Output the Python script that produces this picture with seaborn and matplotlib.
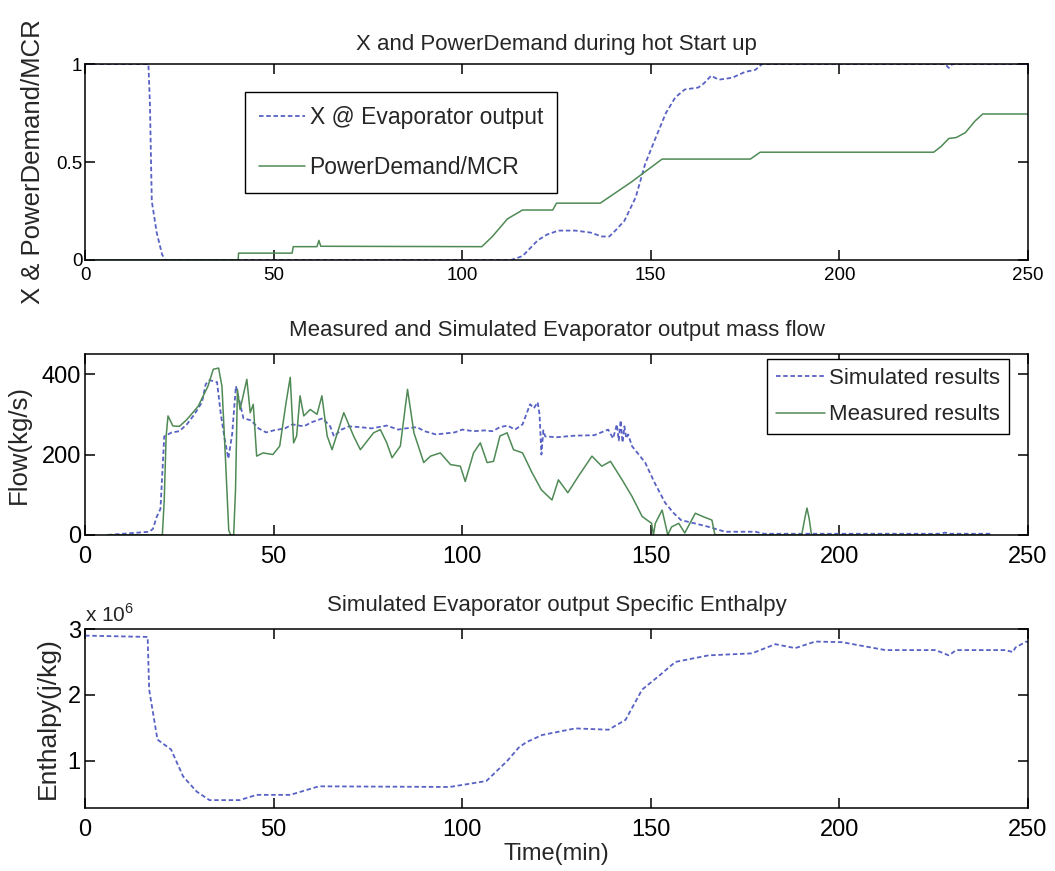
import matplotlib
matplotlib.use('Agg')
import matplotlib.pyplot as plt
import seaborn as sns
import pandas as pd

# --- data ---
# top: quality X at evaporator output and PowerDemand/MCR
x_time = [0, 12, 16.8, 17.2, 17.7, 19, 20.4, 21.2, 113, 116, 118, 120, 122.5, 125.5, 130,
          134, 137, 139, 140.6, 143, 146, 148.5, 151, 154, 156.5, 159, 162.6, 164, 166,
          168, 171.6, 175, 177.7, 179.5, 228, 229, 230, 250]
x_evap = [1, 1, 1, 0.8, 0.3, 0.14, 0.03, 0, 0, 0.02, 0.06, 0.10, 0.13, 0.15, 0.15,
          0.14, 0.12, 0.12, 0.15, 0.20, 0.32, 0.49, 0.61, 0.75, 0.83, 0.87, 0.88, 0.90, 0.94,
          0.92, 0.93, 0.96, 0.97, 1.0, 1.0, 0.98, 1.0, 1.0]

pd_time = [0, 40.6, 40.7, 54.9, 55.2, 61.5, 62, 62.5, 105.2, 108, 112, 116, 124, 125,
           136.6, 145, 153, 176.4, 179, 225, 227, 229, 231, 233.4, 236, 238, 250]
pd_mcr = [0, 0, 0.035, 0.035, 0.068, 0.068, 0.10, 0.07, 0.068, 0.12, 0.21, 0.255, 0.255, 0.29,
          0.29, 0.40, 0.515, 0.515, 0.55, 0.55, 0.58, 0.62, 0.625, 0.65, 0.71, 0.745, 0.745]

# middle: evaporator output mass flow (kg/s)
sim_time = [6, 17, 18, 19, 20, 21, 23, 25, 27, 29, 31, 32, 33, 35, 36, 37, 38, 39, 40, 42,
            44, 46, 48, 50, 53, 55, 58, 60, 63, 65, 66, 68, 70, 73, 76, 80, 83, 85, 88, 90,
            93, 95, 98, 100, 103, 106, 108, 110, 112, 114, 116, 117, 118, 119, 120, 120.5,
            121, 121.5, 122, 125, 130, 135, 138.7, 140, 141, 141.5, 142, 142.5, 143, 143.5,
            144, 145, 148.5, 151, 153.8, 156, 158, 162, 165, 169.7, 177.7, 180, 227, 228,
            229, 240]
sim_flow = [0, 8, 15, 45, 65, 245, 255, 258, 275, 300, 330, 375, 385, 380, 300, 240, 190, 250,
            370, 290, 285, 265, 255, 260, 265, 275, 270, 280, 290, 270, 245, 262, 270, 268,
            265, 272, 262, 265, 268, 258, 250, 252, 255, 262, 258, 260, 258, 268, 272, 262,
            275, 300, 325, 315, 330, 300, 200, 260, 245, 243, 247, 248, 262, 240, 275, 235,
            285, 230, 270, 240, 250, 221, 180, 130, 80, 55, 37, 28, 21, 8, 8, 3, 3, 6, 3, 3]

meas_time = [6, 20.5, 21, 21.5, 22, 23.3, 25, 27, 30, 32.6, 34, 35.4, 36.3, 37.2, 38.1, 38.6,
             39.4, 39.9, 40.4, 41.1, 42.9, 43.8, 44.6, 45.5, 47.2, 49.8, 51.6, 53.3, 54.4,
             55.3, 56.1, 57, 58, 59.7, 61.5, 62.8, 64.2, 65.5, 68.6, 71.2, 73, 76.5, 78.3,
             80, 81.4, 83.6, 85.5, 87.2, 89.8, 91.6, 94.2, 96.9, 99.5, 100.8, 103, 104.8,
             106.6, 108.3, 110, 111.9, 113.6, 116, 118.5, 121, 123.8, 125.5, 128, 130.8,
             134.4, 137, 139.3, 142.4, 145, 147.7, 150.2, 150.7, 151.2, 153, 154.5, 155.5,
             157.4, 159, 161.8, 164, 166.2, 167, 190, 190.8, 191.4, 192, 192.6, 240]
meas_flow = [0, 0, 87, 245, 296, 271, 270, 287, 320, 370, 412, 415, 370, 196, 12, 0,
             0, 112, 362, 312, 387, 304, 325, 196, 204, 200, 221, 329, 392,
             229, 246, 346, 296, 312, 300, 346, 246, 212, 304, 246, 212, 254, 262,
             229, 192, 221, 362, 254, 180, 196, 204, 175, 171, 133, 204, 229,
             180, 183, 246, 254, 212, 204, 155, 112, 87, 137, 105, 146,
             196, 171, 183, 137, 96, 46, 29, 0, 29, 62, 0, 20,
             29, 5, 54, 45, 37, 0, 0, 40, 67, 40, 0, 0]

# bottom: simulated specific enthalpy (J/kg)
h_time = [0, 16.6, 17, 19.2, 22.8, 26, 29.6, 33, 41, 45.5, 54.4, 62, 96.7, 106.4, 112,
          115, 117, 121.2, 130, 138.8, 143.3, 147.7, 152, 156.5, 165.3, 176.8, 183, 188.3,
          193.6, 200.7, 212.2, 225.5, 229, 231, 244, 246, 246.7, 249.6, 250]
enthalpy = [2.90e6, 2.88e6, 2.08e6, 1.32e6, 1.17e6, 0.76e6, 0.53e6, 0.40e6, 0.40e6, 0.48e6,
            0.48e6, 0.61e6, 0.60e6, 0.69e6, 1.00e6, 1.20e6, 1.28e6, 1.39e6, 1.49e6, 1.47e6,
            1.62e6, 2.08e6, 2.28e6, 2.50e6, 2.60e6, 2.63e6, 2.77e6, 2.71e6, 2.81e6, 2.80e6,
            2.68e6, 2.68e6, 2.60e6, 2.68e6, 2.68e6, 2.65e6, 2.72e6, 2.81e6, 2.80e6]

sns.set_style("ticks")
plt.rcParams['font.family'] = ['Liberation Sans', 'DejaVu Sans']
plt.rcParams['mathtext.fontset'] = 'custom'
plt.rcParams['mathtext.rm'] = 'Liberation Sans'
# matlab-like inward ticks on all four sides
plt.rcParams.update({
    'xtick.direction': 'in', 'ytick.direction': 'in',
    'xtick.top': True, 'ytick.right': True,
    'xtick.bottom': True, 'ytick.left': True,
    'xtick.major.size': 7, 'ytick.major.size': 7,
    'xtick.major.width': 1.1, 'ytick.major.width': 1.1,
    'xtick.color': 'black', 'ytick.color': 'black',
})

BLUE = '#5862c4'
GREEN = '#4f8a55'
DOT = (0, (2.5, 1.5))

fig = plt.figure(figsize=(10.55, 8.71), dpi=100)
ax1 = fig.add_axes([0.0806, 0.7015, 0.8938, 0.2250])
ax2 = fig.add_axes([0.0806, 0.3858, 0.8938, 0.2078])
ax3 = fig.add_axes([0.0806, 0.0723, 0.8938, 0.2055])


def style(ax, fs, xpad, ypad):
    ax.set_xlim(0, 250)
    ax.set_xticks([0, 50, 100, 150, 200, 250])
    ax.tick_params(labelsize=fs, labelcolor='black')
    ax.tick_params(axis='x', pad=xpad)
    ax.tick_params(axis='y', pad=ypad)
    for s in ax.spines.values():
        s.set_visible(True)
        s.set_color('black')
        s.set_linewidth(1.1)


# top
sns.lineplot(x=x_time, y=x_evap, ax=ax1, color=BLUE, linestyle=DOT, linewidth=1.3,
             estimator=None, sort=False, label='X @ Evaporator output')
sns.lineplot(x=pd_time, y=pd_mcr, ax=ax1, color=GREEN, linewidth=1.1,
             estimator=None, sort=False, label='PowerDemand/MCR')
style(ax1, 13.5, 5, 2)
ax1.set_ylim(0, 1)
ax1.set_yticks([0, 0.5, 1])
ax1.set_yticklabels(['0', '0.5', '1'])
ax1.set_title('X and PowerDemand during hot Start up', fontsize=16, pad=10)
ax1.set_ylabel('X & PowerDemand/MCR', fontsize=18.5)
ax1.yaxis.set_label_coords(-0.042, 0.5)
ax1.legend(loc='upper left', bbox_to_anchor=(0.17, 0.857), fontsize=16.5, handlelength=2.0,
           labelspacing=1.2, borderpad=0.6, handletextpad=0.2, borderaxespad=0,
           frameon=True, fancybox=False, edgecolor='black', framealpha=1)

# middle
sns.lineplot(x=sim_time, y=sim_flow, ax=ax2, color=BLUE, linestyle=DOT, linewidth=1.3,
             estimator=None, sort=False, label='Simulated results')
sns.lineplot(x=meas_time, y=meas_flow, ax=ax2, color=GREEN, linewidth=1.1,
             estimator=None, sort=False, label='Measured results')
style(ax2, 17, 8, 3)
ax2.set_ylim(0, 450)
ax2.set_yticks([0, 200, 400])
ax2.set_title('Measured and Simulated Evaporator output mass flow', fontsize=16, pad=13)
ax2.set_ylabel('Flow(kg/s)', fontsize=18.5)
ax2.yaxis.set_label_coords(-0.057, 0.5)
ax2.legend(loc='upper right', bbox_to_anchor=(0.98, 0.972), fontsize=16, handlelength=2.2,
           labelspacing=0.7, borderpad=0.4, handletextpad=0.2, borderaxespad=0,
           frameon=True, fancybox=False, edgecolor='black', framealpha=1)

# bottom
h_df = pd.DataFrame({'time': h_time, 'h': enthalpy})
sns.lineplot(data=h_df, x='time', y='h', ax=ax3, color=BLUE, linestyle=DOT, linewidth=1.3,
             estimator=None, sort=False)
style(ax3, 17, 8, 3)
ax3.set_ylim(0.28e6, 3e6)
ax3.set_yticks([1e6, 2e6, 3e6])
ax3.set_yticklabels(['1', '2', '3'])
ax3.text(0.0, 1.02, r'x 10$^{6}$', transform=ax3.transAxes, fontsize=15,
         ha='left', va='bottom')
ax3.set_title('Simulated Evaporator output Specific Enthalpy', fontsize=16, pad=13)
ax3.set_ylabel('Enthalpy(j/kg)', fontsize=19)
ax3.yaxis.set_label_coords(-0.027, 0.5)
ax3.set_xlabel('Time(min)', fontsize=17, labelpad=1)

fig.savefig('out.png', dpi=100)
